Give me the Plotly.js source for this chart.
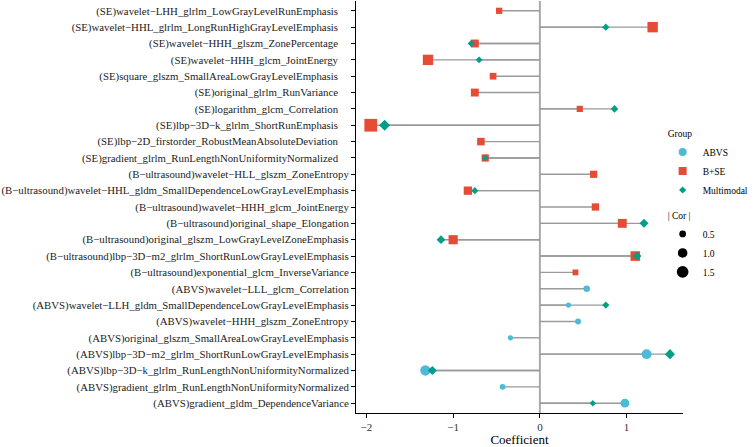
<!DOCTYPE html>
<html>
<head>
<meta charset="utf-8">
<script src="https://cdn.plot.ly/plotly-3.0.1.min.js"></script>
<style>html,body{margin:0;padding:0;background:#fff;}#chart{width:753px;height:447px;}</style>
</head>
<body>
<div id="chart"></div>
<script>
// Features, listed top to bottom
const features = [
  "(SE)wavelet−LHH_glrlm_LowGrayLevelRunEmphasis",
  "(SE)wavelet−HHL_glrlm_LongRunHighGrayLevelEmphasis",
  "(SE)wavelet−HHH_glszm_ZonePercentage",
  "(SE)wavelet−HHH_glcm_JointEnergy",
  "(SE)square_glszm_SmallAreaLowGrayLevelEmphasis",
  "(SE)original_glrlm_RunVariance",
  "(SE)logarithm_glcm_Correlation",
  "(SE)lbp−3D−k_glrlm_ShortRunEmphasis",
  "(SE)lbp−2D_firstorder_RobustMeanAbsoluteDeviation",
  "(SE)gradient_glrlm_RunLengthNonUniformityNormalized",
  "(B−ultrasound)wavelet−HLL_glszm_ZoneEntropy",
  "(B−ultrasound)wavelet−HHL_gldm_SmallDependenceLowGrayLevelEmphasis",
  "(B−ultrasound)wavelet−HHH_glcm_JointEnergy",
  "(B−ultrasound)original_shape_Elongation",
  "(B−ultrasound)original_glszm_LowGrayLevelZoneEmphasis",
  "(B−ultrasound)lbp−3D−m2_glrlm_ShortRunLowGrayLevelEmphasis",
  "(B−ultrasound)exponential_glcm_InverseVariance",
  "(ABVS)wavelet−LLL_glcm_Correlation",
  "(ABVS)wavelet−LLH_gldm_SmallDependenceLowGrayLevelEmphasis",
  "(ABVS)wavelet−HHH_glszm_ZoneEntropy",
  "(ABVS)original_glszm_SmallAreaLowGrayLevelEmphasis",
  "(ABVS)lbp−3D−m2_glrlm_ShortRunLowGrayLevelEmphasis",
  "(ABVS)lbp−3D−k_glrlm_RunLengthNonUniformityNormalized",
  "(ABVS)gradient_glrlm_RunLengthNonUniformityNormalized",
  "(ABVS)gradient_gldm_DependenceVariance"
];

// Coefficients per group (null = feature not in that model)
const abvs = [null,null,null,null,null,null,null,null,null,null,
  null,null,null,null,null,null,null,
  0.54,0.33,0.44,-0.34,1.23,-1.32,-0.43,0.98];
const bse = [-0.47,1.30,-0.75,-1.29,-0.54,-0.75,0.46,-1.95,-0.68,-0.63,
  0.62,-0.83,0.64,0.95,-1.00,1.10,0.41,
  null,null,null,null,null,null,null,null];
const multimodal = [null,0.76,-0.79,-0.70,null,null,0.86,-1.79,null,-0.63,
  null,-0.75,null,1.20,-1.14,1.12,null,
  null,0.76,null,null,1.50,-1.24,null,0.61];

const groupNames = ["ABVS","B+SE","Multimodal"];
const corLegend = [0.5, 1.0, 1.5];

// Y labels: SE labels carry trailing spacing as in the original
const yLabels = features.map(f => f.startsWith("(SE)") ? f + "\u00A0\u00A0\u00A0\u00A0" : f);

const colors = {"ABVS":"#4DBBD5","B+SE":"#E64B35","Multimodal":"#00A087"};
const symbols = {"ABVS":"circle","B+SE":"square","Multimodal":"diamond"};
const sizerefs = {"ABVS":0.025,"B+SE":0.024,"Multimodal":0.05};
const series = {"ABVS":abvs,"B+SE":bse,"Multimodal":multimodal};

const FONT = "Liberation Serif, Times New Roman, serif";
const traces = [];

// segments
groupNames.forEach(g => {
  const xs = [], ys = [];
  series[g].forEach((v,i) => {
    if (v === null) return;
    xs.push(0, v, null); ys.push(yLabels[i], yLabels[i], null);
  });
  traces.push({type:"scatter", mode:"lines", x:xs, y:ys, showlegend:false, hoverinfo:"skip",
    line:{color:"#9a9a9a", width:1.4}});
});

// points
groupNames.forEach(g => {
  const xs = [], ys = [], ss = [];
  series[g].forEach((v,i) => {
    if (v === null) return;
    xs.push(v); ys.push(yLabels[i]); ss.push(Math.abs(v));
  });
  traces.push({type:"scatter", mode:"markers", x:xs, y:ys, name:g, showlegend:false,
    marker:{color:colors[g], symbol:symbols[g], size:ss, sizemode:"area", sizeref:sizerefs[g],
      opacity:1, line:{width:0}}});
});

// legend entries: Group
const groupLegendSize = {"ABVS":8,"B+SE":8,"Multimodal":5.5};
groupNames.forEach((g,k) => {
  traces.push({type:"scatter", mode:"markers", x:[null], y:[null], name:g,
    legendgroup:"grp", legendgrouptitle:{text:"Group", font:{family:FONT, size:9.5, color:"#000"}},
    marker:{color:colors[g], symbol:symbols[g], size:groupLegendSize[g], opacity:1}});
});
// legend entries: |Cor|
corLegend.forEach(c => {
  traces.push({type:"scatter", mode:"markers", x:[null], y:[null], name:c.toFixed(1),
    legendgroup:"cor", legendgrouptitle:{text:"| Cor |", font:{family:FONT, size:9.5, color:"#000"}},
    marker:{color:"#000", symbol:"circle", size:Math.sqrt(c/0.011), opacity:1}});
});

const layout = {
  width:753, height:447,
  margin:{l:356, r:70, t:1, b:34, pad:0, autoexpand:false},
  paper_bgcolor:"#fff", plot_bgcolor:"#fff",
  font:{family:FONT, color:"#000", size:11},
  xaxis:{range:[-2.12,1.65], tickvals:[-2,-1,0,1], showgrid:false, zeroline:false,
    showline:true, linecolor:"#000", linewidth:1, ticks:"outside", ticklen:4, tickcolor:"#000",
    tickfont:{family:FONT, size:11, color:"#333"},
    title:{text:"Coefficient", font:{family:FONT, size:13, color:"#000"}, standoff:0}},
  yaxis:{type:"category", categoryorder:"array", categoryarray:yLabels.slice().reverse(),
    range:[-0.6, 24.6], showgrid:false, zeroline:false, showline:true, linecolor:"#000", linewidth:1,
    ticks:"outside", ticklen:4, tickcolor:"#000", tickfont:{family:FONT, size:10.8, color:"#222"}},
  shapes:[{type:"line", xref:"x", yref:"paper", x0:0, x1:0, y0:0, y1:1,
    line:{color:"#aaaaaa", width:2}, layer:"below"}],
  legend:{xref:"container", yref:"container", x:0.880, y:0.735, xanchor:"left", yanchor:"top",
    font:{family:FONT, size:9.5, color:"#000"}, tracegroupgap:6, traceorder:"grouped",
    bgcolor:"rgba(0,0,0,0)", itemwidth:30},
  showlegend:true
};

Plotly.newPlot("chart", traces, layout, {displayModeBar:false, staticPlot:true});
</script>
</body>
</html>
